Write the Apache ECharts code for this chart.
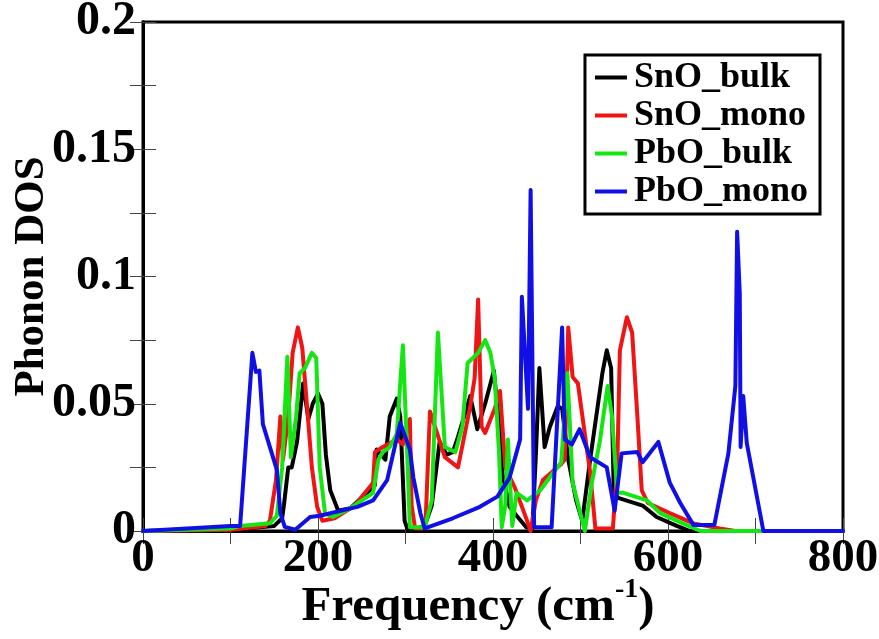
<!DOCTYPE html>
<html>
<head>
<meta charset="utf-8">
<script src="https://cdn.jsdelivr.net/npm/echarts@6/dist/echarts.min.js"></script>
<style>
html,body{margin:0;padding:0;background:#fff;}
#chart{width:879px;height:639px;}
</style>
</head>
<body>
<div id="chart"></div>
<script>
// Frequency (cm^-1), Phonon DOS pairs
const seriesNames = ['SnO_bulk', 'SnO_mono', 'PbO_bulk', 'PbO_mono'];
const xTicks = [0, 200, 400, 600, 800];
const yTicks = [0, 0.05, 0.1, 0.15, 0.2];

const snoBulk = [
  [0,0],[100,0.0005],[150,0.002],[159,0.005],[161,0.01],[166,0.025],[170,0.025],[176,0.035],
  [183,0.058],[189,0.044],[194,0.050],[200,0.054],[205,0.050],[209,0.030],[214,0.016],
  [223,0.008],[237,0.009],[259,0.016],[265,0.018],[267,0.032],[277,0.028],[282,0.045],
  [290,0.052],[294,0.045],[299,0.004],[303,0],[322,0.002],[330,0.01],[339,0.035],
  [347,0.030],[354,0.031],[360,0.037],[374,0.053],[382,0.040],[391,0.050],[401,0.063],
  [406,0.045],[411,0.022],[419,0.0095],[427,0.006],[438,0.0015],[445,0.001],[449,0.03],
  [453,0.064],[459,0.033],[465,0.041],[474,0.049],[479,0.048],[486,0.028],[495,0.012],
  [502,0.004],[511,0.028],[525,0.062],[530,0.071],[535,0.064],[538,0.015],[543,0.013],
  [571,0.010],[587,0.0055],[610,0.002],[625,0],[800,0]
];

const snoMono = [
  [0,0],[100,0.0005],[140,0.002],[145,0.004],[152,0.02],[157,0.045],[160,0.028],[166,0.045],
  [171,0.07],[177,0.080],[182,0.072],[187,0.051],[193,0.025],[199,0.0095],[205,0.004],
  [219,0.005],[242,0.010],[263,0.019],[265,0.031],[274,0.033],[282,0.0345],[290,0.036],
  [297,0.034],[305,0.044],[307,0.010],[311,0.001],[319,0.001],[323,0.004],[328,0.047],
  [345,0.029],[360,0.025],[374,0.049],[379,0.06],[383,0.091],[387,0.041],[391,0.0385],
  [402,0.048],[408,0.055],[414,0.025],[425,0.017],[439,0.004],[443,0],[449,0.012],
  [457,0.020],[477,0.026],[482,0.028],[486,0.080],[491,0.0605],[497,0.058],[511,0.023],
  [517,0.001],[537,0.001],[542,0.025],[545,0.071],[553,0.084],[559,0.078],[565,0.045],
  [570,0.016],[577,0.011],[602,0.007],[629,0.003],[659,0.001],[677,0],[800,0]
];

const pboBulk = [
  [0,0],[100,0.001],[111,0.002],[145,0.003],[153,0.006],[159,0.025],[165,0.0685],[169,0.029],
  [175,0.045],[179,0.062],[185,0.064],[193,0.070],[198,0.068],[202,0.025],[208,0.007],
  [217,0.0055],[237,0.009],[263,0.015],[269,0.028],[274,0.031],[282,0.033],[290,0.038],
  [297,0.073],[302,0.03],[305,0.0015],[322,0.0015],[330,0.012],[337,0.078],[345,0.033],
  [357,0.031],[365,0.041],[371,0.066],[377,0.068],[383,0.070],[391,0.075],[397,0.070],
  [402,0.060],[407,0.03],[410,0.0015],[414,0.01],[417,0.036],[422,0.002],[427,0.015],
  [439,0.012],[454,0.016],[469,0.023],[478,0.027],[485,0.062],[491,0.019],[502,0.004],
  [505,0],[513,0.019],[522,0.035],[531,0.057],[536,0.045],[542,0.015],[549,0.015],
  [576,0.012],[591,0.007],[617,0.003],[637,0],[800,0]
];

const pboMono = [
  [0,0],[100,0.002],[111,0.002],[125,0.070],[129,0.0625],[133,0.063],[137,0.042],[153,0.024],
  [157,0.007],[162,0.0016],[174,0.0005],[191,0.0055],[202,0.006],[245,0.0095],[263,0.012],
  [279,0.020],[294,0.0425],[305,0.032],[309,0.021],[317,0.007],[322,0.001],[354,0.005],
  [385,0.0095],[405,0.0135],[419,0.021],[431,0.036],[433,0.092],[440,0.048],[443,0.134],
  [447,0.0015],[467,0.0015],[479,0.080],[482,0.036],[490,0.034],[499,0.040],[511,0.029],
  [530,0.025],[539,0.008],[547,0.0305],[565,0.031],[571,0.027],[589,0.035],[602,0.019],
  [614,0.011],[629,0.0024],[653,0.0024],[669,0.0305],[677,0.057],[679,0.1176],[682,0.0935],
  [683,0.033],[686,0.053],[690,0.0346],[709,0],[800,0]
];

const seriesData = [snoBulk, snoMono, pboBulk, pboMono];
const colors = ['#000000', '#f01414', '#14e614', '#1010e6'];

const FONT = '"Liberation Serif", "Times New Roman", serif';
const chart = echarts.init(document.getElementById('chart'), null, {renderer: 'canvas'});

const tickStyle = {show: true, inside: true, length: 13, lineStyle: {color: '#444', width: 1}};
const minorStyle = {show: true, splitNumber: 2, length: 13, lineStyle: {color: '#444', width: 1}};

const option = {
  backgroundColor: '#ffffff',
  animation: false,
  grid: {left: 143, right: 36, top: 22, bottom: 108, show: true, borderColor: '#000', borderWidth: 3,
         containLabel: false, outerBoundsMode: 'none'},
  legend: {
    data: seriesNames,
    orient: 'vertical',
    right: 59,
    top: 55,
    padding: [4, 12, 4, 10],
    itemGap: 1,
    itemWidth: 32,
    itemHeight: 4,
    icon: 'rect',
    borderColor: '#000',
    borderWidth: 3,
    backgroundColor: '#fff',
    textStyle: {fontFamily: FONT, fontWeight: 'bold', fontSize: 36, lineHeight: 37, color: '#000', padding: [0, 0, 0, 2]}
  },
  xAxis: [{
    type: 'value', min: xTicks[0], max: xTicks[xTicks.length - 1], interval: 200,
    position: 'bottom',
    name: '{a|Frequency (cm}{s|-1}{a|)}',
    nameLocation: 'middle', nameGap: 45, nameMoveOverlap: false,
    nameTextStyle: {
      padding: [0, 30, 0, 0],
      rich: {
        a: {fontFamily: FONT, fontWeight: 'bold', fontSize: 49, color: '#000', verticalAlign: 'bottom', lineHeight: 56},
        s: {fontFamily: FONT, fontWeight: 'bold', fontSize: 28, color: '#000', verticalAlign: 'top', lineHeight: 56}
      }
    },
    axisLine: {show: true, lineStyle: {color: '#000', width: 3}},
    axisTick: tickStyle,
    minorTick: minorStyle,
    splitLine: {show: false},
    axisLabel: {fontFamily: FONT, fontWeight: 'bold', fontSize: 47, color: '#000', margin: 4}
  }, {
    type: 'value', min: xTicks[0], max: xTicks[xTicks.length - 1], interval: 200,
    position: 'top',
    axisLine: {show: true, lineStyle: {color: '#000', width: 3}},
    axisTick: tickStyle, minorTick: minorStyle,
    splitLine: {show: false}, axisLabel: {show: false}
  }],
  yAxis: [{
    type: 'value', min: yTicks[0], max: yTicks[yTicks.length - 1], interval: 0.05,
    position: 'left',
    name: 'Phonon DOS',
    nameLocation: 'middle', nameGap: 90, nameMoveOverlap: false,
    nameTextStyle: {fontFamily: FONT, fontWeight: 'bold', fontSize: 43, color: '#000'},
    axisLine: {show: true, lineStyle: {color: '#000', width: 3}},
    axisTick: tickStyle,
    minorTick: minorStyle,
    splitLine: {show: false},
    axisLabel: {fontFamily: FONT, fontWeight: 'bold', fontSize: 48, color: '#000', margin: 7}
  }, {
    type: 'value', min: yTicks[0], max: yTicks[yTicks.length - 1], interval: 0.05,
    position: 'right',
    axisLine: {show: true, lineStyle: {color: '#000', width: 3}},
    axisTick: tickStyle, minorTick: minorStyle,
    splitLine: {show: false}, axisLabel: {show: false}
  }],
  series: seriesNames.map((n, i) => ({
    name: n,
    type: 'line',
    xAxisIndex: 0,
    yAxisIndex: 0,
    data: seriesData[i],
    showSymbol: false,
    symbol: 'none',
    smooth: false,
    color: colors[i],
    lineStyle: {color: colors[i], width: 4, join: 'round', cap: 'round'},
    z: 2 + i
  }))
};
chart.setOption(option);
</script>
</body>
</html>
